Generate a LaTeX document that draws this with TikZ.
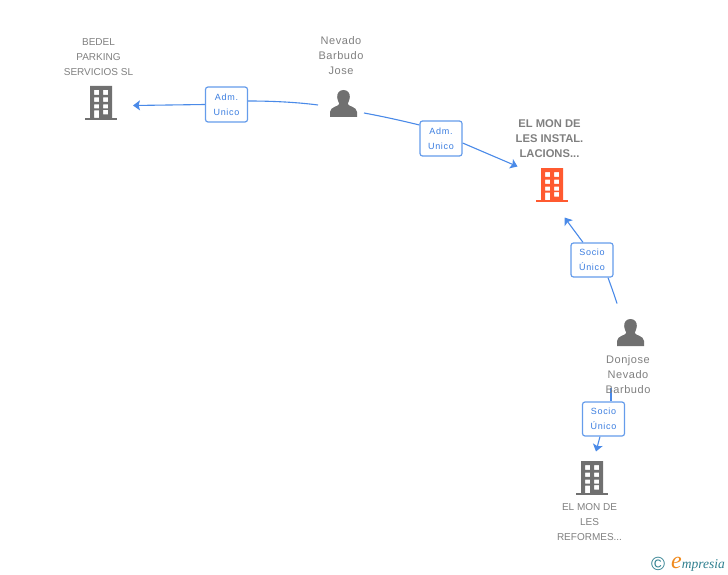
\documentclass[tikz,border=0pt]{standalone}
\usepackage{fontspec}
\setmainfont{Liberation Sans}
\newfontfamily\logofont[Ligatures=TeX]{Liberation Serif}
\usetikzlibrary{arrows.meta,backgrounds}
\definecolor{txtgrey}{HTML}{7F7F7F}
\definecolor{icongrey}{HTML}{707070}
\definecolor{iconorange}{HTML}{FF5A30}
\definecolor{linkblue}{HTML}{4A8AE8}
\definecolor{lbltxt}{HTML}{3A7DE0}
\definecolor{logoteal}{HTML}{2F7F8F}
\definecolor{logoorange}{HTML}{F08A1D}
\newcommand{\bldgicon}[3]{%
  \begin{scope}[shift={(#1,#2)}]
    \fill[#3,even odd rule]
      (-11,0) rectangle (11,32)
      (-7,4) rectangle (-2,8.8) (2.2,4) rectangle (7.2,8.8)
      (-7,11.5) rectangle (-2,15.8) (2.2,11.5) rectangle (7.2,15.8)
      (-7,18.5) rectangle (-2,22.5) (2.2,18.5) rectangle (7.2,22.5)
      (-7,24.5) rectangle (-2,32) (2.2,24) rectangle (7.2,28.5);
    \fill[#3] (-16,32) rectangle (16,34);
  \end{scope}}
\newcommand{\personicon}[3]{%
  \begin{scope}[shift={(#1,#2)}]
    \fill[#3] (0,0) .. controls (4.5,0) and (6.5,3.5) .. (6.3,7)
      .. controls (6.1,10.5) and (4.5,12.5) .. (4.2,14)
      .. controls (5,16.5) and (13,16.5) .. (13.5,22)
      -- (13.5,27) -- (-13.5,27) -- (-13.5,22)
      .. controls (-13,16.5) and (-5,16.5) .. (-4.2,14)
      .. controls (-4.5,12.5) and (-6.1,10.5) .. (-6.3,7)
      .. controls (-6.5,3.5) and (-4.5,0) .. (0,0) -- cycle;
  \end{scope}}
\tikzset{
  x=1pt,y=-1pt,
  conn/.style={draw=linkblue,line width=1.1pt},
  arrowconn/.style={conn,-{Stealth[length=7pt,width=10pt,inset=1.5pt]}},
  reltag/.style={draw=linkblue!85,line width=1.2pt,rounded corners=2.5pt,fill=white,
    minimum width=42pt,inner sep=0pt,text=lbltxt,align=center,
    font=\fontsize{9}{15}\selectfont\addfontfeature{LetterSpace=8}},
  nametxt/.style={text=txtgrey,align=center,inner sep=0pt,font=\fontsize{10}{15}\selectfont},
  personname/.style={nametxt,font=\fontsize{11}{15}\selectfont\addfontfeature{LetterSpace=5}},
  namebold/.style={nametxt,font=\fontsize{11.2}{15}\selectfont\bfseries},
}
\begin{document}
\begin{tikzpicture}
\path[use as bounding box] (0,0) rectangle (728,575);
% texts
\node[nametxt] (n1) at (98.5,57.5) {BEDEL\\PARKING\\SERVICIOS SL};
\node[personname] (n2) at (341,56) {Nevado\\Barbudo\\Jose};
\node[namebold] (n3) at (549.5,139) {EL MON DE\\LES INSTAL.\\LACIONS...};
\node[personname] (n4) at (628,375) {Donjose\\Nevado\\Barbudo};
\node[nametxt] (n5) at (589.5,522) {EL MON DE\\LES\\REFORMES...};
% icons
\bldgicon{101}{86}{icongrey}
\personicon{343.5}{90}{icongrey}
\bldgicon{552}{168}{iconorange}
\personicon{630.5}{319}{icongrey}
\bldgicon{592}{461}{icongrey}
% connector free ends
\coordinate (p1a) at (318,105);
\coordinate (t1) at (133,105.5);
\coordinate (p1b) at (364,113);
\coordinate (t2) at (517.5,166.5);
\coordinate (p2a) at (617,303.5);
\coordinate (t3) at (564.5,217.5);
\coordinate (p2b) at (611,388);
\coordinate (t4) at (596,451.5);
% tags
\node[reltag,minimum height=35pt] (l1) at (226.5,104.5) {Adm.\\Unico};
\node[reltag,minimum height=35pt] (l2) at (441,138.5) {Adm.\\Unico};
\node[reltag,minimum height=34pt] (l3) at (592,260) {Socio\\Único};
\node[reltag,minimum height=34pt] (l4) at (603.5,419) {Socio\\Único};
% connectors
\begin{scope}[on background layer]
\draw[conn] (p1a) .. controls (295,102) and (270,101) .. ([yshift=3.5pt]l1.east);
\draw[arrowconn] (l1.west) -- (t1);
\draw[conn] (p1b) .. controls (383,116.5) and (401,120.5) .. ([yshift=13.5pt]l2.west);
\draw[arrowconn] ([yshift=-4.5pt]l2.east) -- (t2);
\draw[conn] (p2a) .. controls (614,294) and (611,286) .. ([xshift=16pt]l3.south);
\draw[arrowconn] ([xshift=-9pt]l3.north) -- (t3);
\draw[conn] (p2b) -- ([xshift=7.5pt]l4.north);
\draw[arrowconn] ([xshift=-3.5pt]l4.south) -- (t4);
\end{scope}
% logo
\node[inner sep=0pt,text=logoteal,font=\fontsize{19}{19}\selectfont] (c) at (658,564) {©};
\node[inner sep=0pt,anchor=base west,font=\logofont\itshape\fontsize{13.5}{14}\selectfont] (lg) at (671,568)
  {\textcolor{logoorange}{\fontsize{24}{20}\selectfont e}\textcolor{logoteal}{mpresia}};
\end{tikzpicture}
\end{document}
